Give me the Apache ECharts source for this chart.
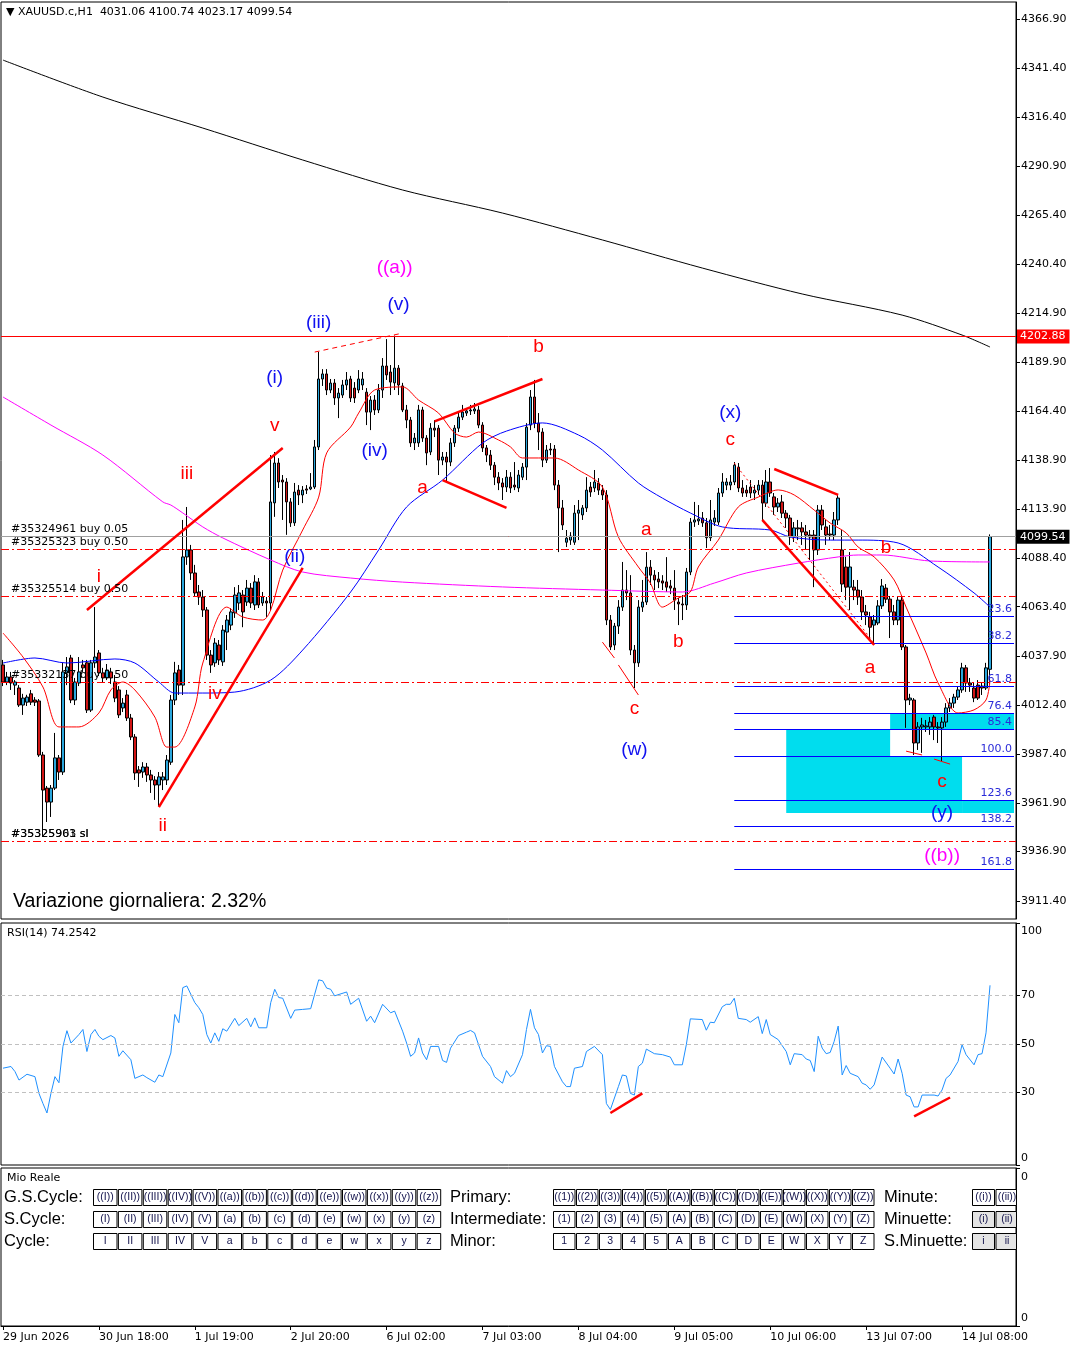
<!DOCTYPE html>
<html><head><meta charset="utf-8">
<script src="https://cdn.jsdelivr.net/npm/echarts@6/dist/echarts.min.js"></script>
<style>html,body{margin:0;padding:0;background:#fff}#c{width:1080px;height:1350px}</style>
</head><body><div id="c"></div>
<script>
// ---------- DATA ----------
const dateLabels = ['29 Jun 2026','30 Jun 18:00','1 Jul 19:00','2 Jul 20:00','6 Jul 02:00','7 Jul 03:00','8 Jul 04:00','9 Jul 05:00','10 Jul 06:00','13 Jul 07:00','14 Jul 08:00'];
const priceTicks = [3911.40,3936.90,3961.90,3987.40,4012.40,4037.90,4063.40,4088.40,4113.90,4138.90,4164.40,4189.90,4214.90,4240.40,4265.40,4290.90,4316.40,4341.40,4366.90];
const rsiTicks = [0,30,50,70,100];
// [open, close, low, high]
const ohlc = [
[4033.3,4024.5,4022.4,4035.9],[4024.5,4027.1,4022.9,4029.7],[4027.1,4024.0,4020.4,4029.7],[4022.9,4024.5,4017.8,4025.5],[4021.4,4012.6,4011.6,4022.9],
[4012.6,4016.2,4007.5,4018.4],[4014.1,4016.7,4012.1,4017.9],[4018.4,4014.1,4012.6,4020.4],[4015.2,4014.1,4012.1,4016.7],[4014.7,3986.8,3985.8,4015.7],
[3986.8,3968.7,3945.0,3988.4],[3969.7,3962.5,3952.2,3970.8],[3962.5,3969.7,3954.8,3971.3],[3969.7,3985.3,3968.7,3998.2],[3985.3,3978.0,3973.9,3986.8],
[3978.0,4029.7,3976.5,4034.4],[4029.2,4032.3,4022.9,4037.4],[4036.9,4015.2,4013.6,4038.5],[4015.2,4024.5,4012.6,4026.6],[4024.0,4029.7,4022.4,4037.4],
[4033.3,4031.8,4029.7,4035.9],[4034.4,4010.0,4008.5,4035.9],[4010.0,4034.4,4009.0,4035.9],[4034.4,4037.4,4031.8,4063.2],[4039.5,4029.2,4027.6,4041.0],
[4029.2,4026.6,4024.5,4031.8],[4026.6,4030.7,4025.5,4033.8],[4029.7,4026.6,4023.5,4031.8],[4024.5,4016.2,4014.1,4028.1],[4020.4,4007.5,4005.9,4022.4],
[4011.1,4013.6,4009.0,4016.2],[4017.8,4005.9,4004.4,4020.4],[4005.9,3996.1,3994.5,4008.0],[3996.1,3977.5,3973.9,3997.6],[3979.1,3977.5,3970.3,3981.1],
[3978.0,3980.6,3975.0,3983.1],[3980.6,3976.5,3972.9,3982.7],[3976.5,3973.9,3967.2,3979.1],[3973.9,3971.3,3963.6,3975.9],[3971.3,3975.5,3960.5,3978.0],
[3973.9,3975.5,3968.7,3978.0],[3973.9,3984.2,3971.3,3986.8],[3983.1,4015.2,3981.7,4017.8],[4015.2,4029.2,4012.6,4034.9],[4030.7,4022.9,4017.8,4033.3],
[4022.9,4089.1,4017.8,4108.2],[4089.1,4092.7,4085.0,4114.9],[4092.7,4080.8,4077.2,4095.3],[4080.8,4070.5,4068.9,4085.0],[4071.0,4068.4,4064.3,4074.6],
[4068.4,4061.7,4058.1,4072.0],[4061.7,4038.4,4035.9,4063.2],[4038.4,4033.3,4029.2,4041.0],[4034.4,4044.6,4032.3,4047.2],[4043.6,4035.9,4033.3,4046.2],
[4034.9,4051.3,4032.8,4053.9],[4050.3,4056.5,4041.0,4059.1],[4053.9,4060.7,4051.3,4062.7],[4060.2,4069.4,4057.6,4073.5],[4065.3,4070.5,4061.7,4074.6],
[4069.4,4060.7,4052.8,4072.0],[4065.8,4073.0,4063.8,4077.2],[4073.0,4065.3,4062.7,4075.6],[4064.3,4076.2,4061.7,4079.7],[4076.2,4064.3,4062.7,4078.2],
[4065.3,4068.4,4063.8,4071.0],[4066.3,4065.3,4058.1,4068.4],[4065.3,4117.5,4061.7,4141.7],[4117.0,4137.6,4109.8,4143.3],[4137.6,4127.8,4124.7,4140.1],
[4128.8,4127.8,4108.2,4131.4],[4127.8,4117.5,4100.5,4129.8],[4117.5,4106.7,4104.6,4119.5],[4106.7,4122.6,4105.1,4127.3],[4123.6,4121.1,4115.9,4126.2],
[4121.1,4123.6,4116.9,4125.7],[4124.2,4123.6,4121.6,4126.2],[4124.2,4125.2,4123.6,4132.4],[4125.2,4145.9,4124.2,4149.5],[4145.9,4181.0,4144.3,4195.0],
[4181.0,4183.6,4177.4,4186.1],[4183.6,4175.3,4172.7,4186.1],[4175.3,4178.9,4173.7,4181.0],[4178.9,4171.2,4167.6,4181.0],[4171.2,4173.7,4160.8,4176.3],
[4172.7,4177.9,4171.2,4180.5],[4177.9,4180.5,4175.3,4184.6],[4181.0,4171.2,4169.1,4182.6],[4176.3,4171.2,4168.6,4179.4],[4175.3,4181.0,4173.7,4185.6],
[4177.9,4181.0,4175.3,4184.6],[4174.2,4163.9,4157.2,4176.3],[4163.9,4170.1,4154.6,4172.2],[4170.1,4165.0,4162.4,4172.7],[4165.0,4175.3,4163.4,4178.4],
[4175.3,4187.7,4171.2,4191.8],[4187.7,4183.1,4180.5,4201.6],[4184.6,4179.4,4172.7,4188.2],[4179.0,4186.6,4175.3,4203.4],[4186.6,4177.9,4172.7,4188.2],
[4177.4,4165.0,4163.9,4179.0],[4165.0,4159.8,4155.6,4167.6],[4159.8,4148.0,4145.9,4161.4],[4148.0,4150.5,4144.3,4153.1],[4148.0,4165.0,4145.9,4167.6],
[4165.0,4150.5,4148.5,4166.6],[4150.5,4142.8,4136.5,4152.0],[4143.3,4155.6,4141.7,4158.2],[4155.6,4154.6,4151.0,4159.8],[4155.6,4139.1,4131.4,4157.2],
[4139.1,4140.7,4136.5,4143.3],[4140.7,4138.1,4127.8,4143.3],[4138.1,4148.0,4136.0,4150.5],[4148.0,4155.6,4145.9,4157.2],[4155.6,4161.3,4153.6,4163.9],
[4161.3,4163.9,4159.8,4167.6],[4163.4,4164.5,4161.9,4166.0],[4164.5,4165.0,4162.4,4167.6],[4164.5,4165.5,4162.9,4168.6],[4165.0,4157.2,4155.6,4167.1],
[4157.2,4145.4,4143.3,4158.7],[4145.4,4141.7,4138.1,4146.9],[4141.7,4136.5,4134.0,4144.3],[4136.5,4130.3,4126.2,4138.1],[4130.3,4127.3,4123.6,4132.9],
[4127.3,4125.2,4118.5,4129.8],[4125.2,4130.3,4122.6,4134.0],[4130.3,4124.7,4122.1,4132.9],[4126.2,4125.2,4123.6,4138.1],[4124.7,4131.4,4122.6,4134.0],
[4130.3,4135.5,4128.8,4137.6],[4135.5,4156.1,4128.8,4158.2],[4157.2,4171.7,4154.6,4175.3],[4171.7,4158.2,4155.6,4180.5],[4158.2,4153.6,4144.3,4163.4],
[4153.6,4139.1,4135.5,4155.6],[4139.1,4144.3,4137.6,4146.9],[4144.8,4144.3,4141.7,4147.9],[4144.8,4126.2,4123.6,4146.9],[4126.2,4114.4,4091.6,4128.8],
[4114.4,4105.6,4103.0,4118.5],[4096.7,4098.8,4094.2,4103.0],[4097.8,4099.9,4095.3,4101.9],[4096.7,4111.7,4095.3,4115.9],[4111.7,4113.3,4097.8,4118.5],
[4110.8,4114.4,4108.2,4115.9],[4114.4,4123.6,4112.3,4130.3],[4125.2,4122.6,4120.1,4127.8],[4124.7,4127.8,4122.6,4134.0],[4127.3,4123.6,4121.1,4129.8],
[4123.6,4121.1,4118.5,4126.2],[4121.1,4056.5,4053.9,4123.6],[4056.5,4042.6,4041.0,4059.1],[4043.6,4053.4,4041.0,4055.0],[4053.4,4063.2,4049.3,4066.8],
[4063.2,4072.0,4061.2,4086.5],[4072.0,4070.5,4066.8,4082.3],[4070.5,4041.0,4038.4,4079.7],[4041.0,4034.4,4021.4,4043.6],[4034.4,4063.2,4032.3,4066.8],
[4063.2,4065.8,4060.7,4077.2],[4065.8,4083.8,4064.3,4091.6],[4083.8,4079.7,4074.6,4087.5],[4079.7,4077.2,4072.0,4082.3],[4077.7,4076.2,4073.0,4081.3],
[4076.7,4075.6,4072.0,4079.7],[4076.2,4073.5,4071.0,4089.0],[4074.1,4073.0,4069.9,4077.2],[4073.0,4066.8,4061.7,4082.3],[4065.8,4064.8,4053.9,4067.9],
[4064.8,4064.3,4056.5,4069.4],[4064.3,4081.3,4061.7,4083.4],[4081.3,4107.1,4079.7,4109.2],[4107.1,4108.2,4104.6,4117.5],[4107.7,4108.7,4105.6,4115.9],
[4109.2,4106.7,4104.6,4112.3],[4106.7,4099.0,4093.7,4109.2],[4099.0,4108.2,4097.3,4118.5],[4107.1,4109.2,4105.1,4113.3],[4107.1,4122.1,4105.6,4124.7],
[4122.1,4127.8,4120.1,4132.4],[4126.2,4127.8,4123.6,4129.8],[4126.2,4127.8,4123.6,4131.4],[4127.8,4136.5,4126.2,4138.1],[4135.5,4124.7,4122.6,4137.6],
[4124.7,4122.1,4120.1,4128.8],[4123.6,4122.1,4120.1,4126.2],[4125.2,4122.1,4119.5,4128.8],[4122.1,4123.6,4118.5,4126.2],[4123.6,4126.2,4121.1,4128.8],
[4126.2,4116.9,4108.2,4128.8],[4116.9,4127.8,4114.9,4134.0],[4127.8,4122.1,4120.1,4135.0],[4120.1,4114.9,4110.8,4122.1],[4114.9,4116.9,4112.3,4119.5],
[4117.5,4111.7,4109.2,4121.1],[4111.7,4109.2,4104.1,4113.3],[4109.2,4099.4,4095.3,4110.8],[4099.4,4104.1,4096.8,4107.1],[4104.1,4103.6,4097.8,4108.2],
[4104.1,4102.0,4095.3,4107.1],[4102.0,4100.4,4092.7,4105.6],[4100.4,4099.4,4087.5,4103.0],[4100.4,4092.7,4073.5,4103.0],[4092.7,4113.3,4090.1,4115.9],
[4113.3,4105.6,4103.0,4115.9],[4104.6,4100.4,4095.3,4108.2],[4100.9,4100.4,4097.8,4105.6],[4100.4,4108.2,4097.8,4112.3],[4108.2,4119.5,4105.6,4121.1],
[4092.7,4075.1,4071.0,4103.0],[4083.9,4073.5,4066.8,4089.1],[4073.5,4083.9,4061.7,4091.6],[4073.5,4072.0,4066.8,4077.2],[4072.0,4068.4,4064.3,4077.2],
[4068.4,4060.7,4056.5,4072.0],[4060.7,4059.1,4053.9,4064.3],[4058.1,4052.8,4046.2,4060.7],[4053.9,4056.5,4044.6,4059.1],[4055.0,4063.8,4053.9,4066.8],
[4063.8,4074.1,4062.2,4077.7],[4073.0,4067.3,4065.3,4075.1],[4067.3,4060.7,4047.2,4068.9],[4060.7,4056.5,4053.9,4064.3],[4056.5,4066.8,4053.9,4068.4],
[4066.8,4042.6,4041.0,4069.4],[4042.6,4015.2,4000.8,4043.6],[4015.2,4016.2,4012.6,4018.4],[4015.2,3993.0,3986.8,4016.2],[3993.0,4001.3,3989.4,4003.8],
[4001.3,4002.3,3987.9,4006.0],[4001.3,4001.8,3998.7,4004.9],[4001.3,4003.8,3997.2,4006.4],[4006.4,4001.3,3994.5,4007.5],[4001.3,4000.8,3993.0,4003.8],
[4000.8,4003.8,3983.7,4006.4],[4003.8,4011.1,4001.3,4013.6],[4011.1,4013.6,4009.0,4016.2],[4013.6,4016.7,4011.1,4018.4],[4016.7,4020.4,4015.2,4022.4],
[4020.4,4031.8,4018.9,4034.4],[4031.8,4024.0,4019.4,4033.3],[4024.0,4022.9,4019.4,4026.6],[4021.4,4016.2,4014.1,4024.0],[4022.9,4016.2,4015.2,4025.5],
[4022.4,4021.4,4017.8,4024.0],[4021.4,4031.8,4020.4,4034.4],[4031.06,4099.54,4023.17,4100.74]
];
// moving averages: [bar, price]
const maBlack = [[0,4345.7],[25,4326.6],[50,4310.6],[75,4294.1],[100,4278.6],[125,4266.7],[150,4252.8],[175,4238.3],[200,4224.9],[225,4214.0],[240,4203.7],[247,4197.5]];
const maMagenta = [[0,4171.7],[12,4157.2],[25,4141.7],[40,4117.5],[42,4115.9],[45,4111.8],[50,4104.6],[55,4098.9],[67,4087.5],[75,4081.3],[87,4078.2],[100,4076.1],[125,4073.6],[150,4072.0],[170,4071.0],[178,4075.6],[186,4080.8],[199,4085.9],[209,4089.1],[214,4090.1],[220,4090.1],[232,4087.0],[247,4086.5]];
const maBlue = [[0,4034.3],[8,4036.9],[16,4034.3],[28,4036.4],[33,4034.3],[39,4024.5],[43,4018.8],[50,4018.8],[58,4019.3],[67,4025.5],[75,4041.0],[87,4071.0],[94,4092.7],[101,4114.9],[110,4128.8],[120,4147.9],[126,4154.1],[135,4158.3],[144,4152.1],[150,4144.3],[159,4127.3],[165,4119.5],[172,4111.8],[180,4104.6],[192,4103.0],[197,4099.4],[207,4097.8],[214,4097.8],[224,4096.3],[234,4083.9],[243,4070.5],[247,4063.2]];
const maRed = [[0,4049.8],[5,4037.4],[10,4021.9],[14,4001.3],[19,4001.3],[24,4008.5],[27,4020.4],[30,4024.5],[33,4020.4],[38,4006.4],[41,3990.9],[43,3990.9],[48,4011.6],[50,4034.3],[56,4063.2],[60,4058.1],[65,4056.5],[67,4061.7],[70,4082.3],[75,4103.0],[79,4120.0],[81,4142.8],[87,4156.2],[89,4163.4],[93,4175.3],[100,4176.9],[104,4170.1],[109,4163.4],[113,4153.1],[116,4151.0],[119,4153.6],[124,4149.5],[127,4145.9],[130,4140.2],[138,4140.2],[144,4134.0],[150,4125.2],[154,4099.4],[159,4083.9],[162,4075.6],[165,4063.2],[169,4067.9],[172,4071.0],[174,4083.9],[179,4097.8],[184,4114.9],[189,4120.0],[194,4123.7],[198,4121.1],[203,4113.3],[207,4106.6],[211,4101.5],[214,4094.2],[218,4089.1],[223,4077.2],[226,4063.2],[231,4039.5],[234,4024.0],[239,4008.5],[243,4010.1],[246,4015.2],[247,4025.5]];
// RSI(14): [bar, value]
const rsiPoints = [[0,40.0],[2,40.7],[3,38.6],[4,35.1],[6,37.5],[8,36.5],[9,29.6],[10,25.4],[11,21.5],[12,29.6],[13,36.5],[14,34.0],[15,49.0],[16,55.5],[17,50.4],[19,53.9],[20,56.0],[21,46.9],[22,53.9],[23,56.0],[24,53.2],[25,51.8],[27,53.5],[28,52.5],[29,44.9],[30,47.2],[32,43.5],[33,35.8],[35,37.2],[36,36.1],[38,34.2],[39,37.2],[40,36.5],[42,46.3],[43,62.2],[44,58.8],[45,73.3],[46,74.0],[48,67.1],[49,65.0],[50,62.2],[51,53.9],[52,50.4],[53,54.6],[54,51.1],[55,56.3],[56,55.3],[58,60.6],[59,57.6],[61,60.6],[62,57.1],[63,60.8],[64,56.7],[66,56.7],[67,67.1],[68,72.6],[69,69.2],[70,68.9],[72,60.6],[73,64.0],[75,64.3],[77,64.6],[78,70.6],[79,76.5],[80,76.1],[81,73.1],[82,72.6],[83,69.9],[86,71.5],[87,66.4],[89,68.9],[91,59.4],[92,61.5],[93,58.8],[95,66.4],[97,62.9],[98,63.6],[100,55.3],[101,50.4],[102,44.9],[103,46.3],[104,52.5],[105,46.3],[106,43.5],[107,49.0],[109,49.0],[110,43.2],[111,42.4],[112,48.3],[114,53.5],[116,54.9],[117,55.6],[118,54.6],[120,44.9],[122,40.7],[123,36.5],[125,33.8],[126,39.0],[127,36.5],[128,37.9],[130,45.6],[131,56.0],[132,64.3],[133,56.7],[134,53.9],[135,46.3],[136,49.3],[137,49.0],[138,40.7],[140,34.4],[141,32.4],[142,32.4],[143,40.0],[145,40.7],[146,46.9],[148,49.0],[150,45.6],[151,25.4],[152,22.9],[154,32.4],[155,37.2],[156,36.8],[157,29.6],[158,28.9],[159,40.7],[160,42.1],[161,47.9],[163,46.0],[165,45.6],[167,44.6],[168,41.4],[170,41.4],[171,49.7],[172,60.4],[175,60.1],[176,55.7],[177,59.0],[178,58.8],[180,65.4],[181,66.4],[182,66.4],[183,68.9],[184,60.6],[186,60.1],[187,59.0],[189,61.3],[190,54.3],[191,60.1],[192,53.9],[194,51.8],[195,49.3],[196,46.9],[197,41.4],[198,46.0],[200,45.6],[201,43.8],[202,43.2],[203,38.6],[204,53.2],[205,48.3],[206,46.0],[207,46.5],[208,51.1],[209,57.4],[210,37.2],[211,41.1],[212,37.9],[214,36.5],[215,33.8],[216,33.1],[217,31.3],[218,33.1],[220,44.6],[222,40.0],[223,37.6],[224,43.8],[225,37.9],[226,28.9],[227,28.2],[228,24.0],[229,24.0],[230,28.9],[233,28.9],[234,28.5],[235,31.0],[236,35.8],[237,37.2],[239,42.8],[240,49.7],[241,45.6],[243,41.4],[244,45.6],[245,46.0],[246,54.6],[247,74.25]];
// order lines and levels
const orderLevels = [['#35324961 buy 0.05',4099.9],['#35325323 buy 0.50',4093.2],['#35325514 buy 0.50',4068.9],['#35332137 buy 0.50',4024.5],['#35325961 sl',3942.4],['#35325903 sl',3942.4]];
const resistance = 4202.88, lastPrice = 4099.54;
const fibNames = ['23.6','38.2','61.8','76.4','85.4','100.0','123.6','138.2','161.8'];
const fibPrices = [4058.6,4044.6,4022.4,4008.5,4000.2,3986.3,3963.5,3950.1,3927.9];
const fibStartBar = 183.25, rightBar = 253.4;
const zones = [[222.25,4008.5,rightBar,4000.2],[196.25,4000.2,222.25,3986.3],[196.25,3986.3,240,3956.8],[240,3963.5,rightBar,3956.8]];
// wave labels: text, bar, price, colour key
const waves = [['((a))',98.25,4238.3,'m'],['(v)',98.5,4219.2,'b'],['(iii)',79.25,4209.9,'b'],['(i)',68.25,4181.5,'b'],['v',68.25,4156.7,'r'],['iii',46.25,4131.9,'r'],['(iv)',92.5,4143.8,'b'],['b',134.25,4197.5,'r'],['a',105.25,4124.7,'r'],['(ii)',73.25,4089.1,'b'],['i',23.5,4078.7,'r'],['iv',53.25,4018.3,'r'],['ii',40.25,3950.1,'r'],['(x)',182.25,4163.4,'b'],['c',182.0,4149.5,'r'],['a',161.25,4103.0,'r'],['b',169.25,4045.2,'r'],['c',158,4010.6,'r'],['(w)',158.25,3989.4,'b'],['b',220.5,4093.7,'r'],['a',217.25,4031.7,'r'],['c',235,3973.2,'r'],['(y)',235.25,3957.2,'b'],['((b))',235.25,3934.6,'m']];
// trend lines: [bar1, price1, bar2, price2, kind]
const trends = [[21.25,4061.7,69.5,4145.4,'thick'],[39.25,3959.9,75,4083.4,'thick'],[77.5,4194.9,99.5,4204.7,'dash'],[108.25,4159.1,134.5,4181.0,'thick'],[110.25,4128.8,126.25,4114.4,'thick'],[149.5,4045.1,152.5,4036.9,'thin'],[153.5,4033.3,159,4017.8,'thin'],[192.5,4134.5,209.25,4121.1,'thick'],[190.25,4108.2,218.25,4043.6,'thick'],[183.25,4137.6,218.25,4044.6,'dot'],[226.25,3988.8,230,3986.8,'thin'],[232.5,3984.7,236.5,3982.1,'thin']];
const rsiDivs = [[152.4,21.5,160.4,29.6],[228.4,20.1,237.4,27.9]];
// panel button captions
const gsCycle = ['((I))','((II))','((III))','((IV))','((V))','((a))','((b))','((c))','((d))','((e))','((w))','((x))','((y))','((z))'];
const sCycle = ['(I)','(II)','(III)','(IV)','(V)','(a)','(b)','(c)','(d)','(e)','(w)','(x)','(y)','(z)'];
const cycle = ['I','II','III','IV','V','a','b','c','d','e','w','x','y','z'];
const primary = ['((1))','((2))','((3))','((4))','((5))','((A))','((B))','((C))','((D))','((E))','((W))','((X))','((Y))','((Z))'];
const intermediate = ['(1)','(2)','(3)','(4)','(5)','(A)','(B)','(C)','(D)','(E)','(W)','(X)','(Y)','(Z)'];
const minor = ['1','2','3','4','5','A','B','C','D','E','W','X','Y','Z'];
const minute = ['((i))','((ii))'], minuette = ['(i)','(ii)'], sMinuette = ['i','ii'];

// ---------- CHART ----------
const NCAT = 254;
const cats = Array.from({length: NCAT}, (_, i) => String(i));
const F = 'DejaVu Sans';
const waveColor = {m: '#FF00FF', b: '#1010F0', r: '#FF0000'};
const chart = echarts.init(document.getElementById('c'), null, {renderer: 'canvas'});

const gridBase = {show: true, borderColor: '#000', borderWidth: 1, backgroundColor: '#fff', left: 1, width: 1015};
const trendStyle = k => k === 'thick' ? {color: '#FF0000', width: 2.5, type: 'solid'} :
  k === 'dash' ? {color: '#FF0000', width: 1, type: [5, 4]} :
  k === 'dot' ? {color: '#FF0000', width: 1, type: [2, 3]} : {color: '#FF0000', width: 1, type: 'solid'};
const orderLine = {color: '#FF0000', width: 1, type: [8, 3, 2, 3], opacity: 1};

const graphics = [];
const txt = (t, x, y, size, fam, color, align) => graphics.push({type: 'text', z: 100, style: {text: t, x: x, y: y, font: size + 'px "' + fam + '"', fill: color || '#000', textAlign: align || 'left', textVerticalAlign: 'middle'}});
txt('\u25BC XAUUSD.c,H1  4031.06 4100.74 4023.17 4099.54', 6, 12, 11, F, '#000');
txt('Variazione giornaliera: 2.32%', 13, 902, 19.5, 'Liberation Sans', '#000');
txt('RSI(14) 74.2542', 7, 933, 11, F, '#000');
txt('Mio Reale', 7, 1178, 11, F, '#000');
const rows = [
  {y: 1197, l: 'G.S.Cycle:', g1: gsCycle, m: 'Primary:', g2: primary, r: 'Minute:', g3: minute, f3: '#fff'},
  {y: 1219, l: 'S.Cycle:', g1: sCycle, m: 'Intermediate:', g2: intermediate, r: 'Minuette:', g3: minuette, f3: '#e4e4e4'},
  {y: 1241, l: 'Cycle:', g1: cycle, m: 'Minor:', g2: minor, r: 'S.Minuette:', g3: sMinuette, f3: '#e4e4e4'}
];
const btn = (t, x, yc, w, fill) => {
  const ww = Math.min(w, 1016 - x);
  graphics.push({type: 'rect', z: 100, shape: {x: x + 0.5, y: yc - 8 + 0.5, width: ww, height: 16}, style: {fill: fill, stroke: '#000', lineWidth: 1}});
  graphics.push({type: 'text', z: 101, style: {text: t, x: x + w / 2 + 0.5, y: yc + 0.5, font: '10.5px "Liberation Sans"', fill: '#10104a', textAlign: 'center', textVerticalAlign: 'middle'}});
};
rows.forEach(r => {
  txt(r.l, 4, r.y, 16.5, 'Liberation Sans', '#000');
  txt(r.m, 450, r.y, 16.5, 'Liberation Sans', '#000');
  txt(r.r, 884, r.y, 16.5, 'Liberation Sans', '#000');
  r.g1.forEach((t, i) => btn(t, 93 + i * 24.9, r.y, 23.5, '#fff'));
  r.g2.forEach((t, i) => btn(t, 553 + i * 23, r.y, 21.5, '#fff'));
  r.g3.forEach((t, i) => btn(t, 972 + i * 23.5, r.y, 22, r.f3));
});

const option = {
  animation: false,
  backgroundColor: '#fff',
  grid: [
    Object.assign({top: 2, height: 917}, gridBase),
    Object.assign({top: 923, height: 242}, gridBase),
    Object.assign({top: 1168, height: 158}, gridBase)
  ],
  xAxis: [
    {type: 'category', gridIndex: 0, data: cats, boundaryGap: true, show: false},
    {type: 'category', gridIndex: 1, data: cats, boundaryGap: true, show: false},
    {type: 'category', gridIndex: 2, data: cats, boundaryGap: true, position: 'bottom',
      axisLine: {show: true, lineStyle: {color: '#000'}},
      axisTick: {show: true, alignWithLabel: true, length: 4, interval: i => i % 24 === 0, lineStyle: {color: '#000'}},
      axisLabel: {interval: i => i % 24 === 0 && i / 24 < dateLabels.length, formatter: (v, i) => dateLabels[Math.round(i / 24)] || '', align: 'left', color: '#000', fontFamily: F, fontSize: 11, margin: 6},
      splitLine: {show: false}}
  ],
  yAxis: [
    {type: 'value', gridIndex: 0, position: 'right', min: 3902.1, max: 4375.7,
      axisLine: {show: true, lineStyle: {color: '#000'}},
      axisTick: {show: true, length: 4, customValues: priceTicks, lineStyle: {color: '#000'}},
      axisLabel: {customValues: priceTicks, formatter: v => v.toFixed(2), color: '#000', fontFamily: F, fontSize: 11, margin: 5},
      splitLine: {show: false}},
    {type: 'value', gridIndex: 1, position: 'right', min: 0, max: 100,
      axisLine: {show: true, lineStyle: {color: '#000'}},
      axisTick: {show: true, length: 4, customValues: rsiTicks, lineStyle: {color: '#000'}},
      axisLabel: {customValues: [2.9, 30, 50, 70, 96.7], formatter: v => v < 10 ? '0' : (v > 90 ? '100' : String(Math.round(v))), color: '#000', fontFamily: F, fontSize: 11, margin: 5},
      splitLine: {show: false}},
    {type: 'value', gridIndex: 2, position: 'right', min: 0, max: 1,
      axisLine: {show: true, lineStyle: {color: '#000'}},
      axisTick: {show: true, length: 4, customValues: [0, 1], lineStyle: {color: '#000'}},
      axisLabel: {customValues: [0.05, 0.945], formatter: () => '0', color: '#000', fontFamily: F, fontSize: 11, margin: 5},
      splitLine: {show: false}}
  ],
  series: [
    {name: 'zones', type: 'line', xAxisIndex: 0, yAxisIndex: 0, data: [], z: 1, silent: true,
      markArea: {silent: true, itemStyle: {color: '#00DDEE'},
        data: zones.map(z => [{coord: [z[0], z[1]]}, {coord: [z[2], z[3]]}])}},
    {name: 'fib', type: 'line', xAxisIndex: 0, yAxisIndex: 0, data: [], z: 2, silent: true,
      markLine: {silent: true, symbol: ['none', 'none'], lineStyle: {color: '#0000FF', width: 1, type: 'solid'},
        label: {show: true, position: 'insideEndTop', formatter: p => p.name, color: '#2a2ad8', fontFamily: F, fontSize: 11, distance: [2, 1]},
        data: fibPrices.map((p, i) => [{name: fibNames[i], coord: [fibStartBar, p]}, {coord: [rightBar, p]}])}},
    {name: 'orders', type: 'line', xAxisIndex: 0, yAxisIndex: 0, data: [], z: 2, silent: true, color: '#FF0000',
      markLine: {silent: true, symbol: ['none', 'none'],
        lineStyle: orderLine,
        label: {show: true, position: 'insideStartTop', formatter: p => p.name, color: '#000', fontFamily: F, fontSize: 11, padding: [0, 0, 0, 6], distance: [4, 1]},
        data: orderLevels.map(o => ({name: o[0], yAxis: o[1], lineStyle: orderLine})).concat([
          {name: 'res', yAxis: resistance, lineStyle: {color: '#FF0000', type: 'solid', width: 1},
            label: {position: 'end', formatter: resistance.toFixed(2), backgroundColor: '#FF0000', color: '#fff', padding: [2, 4, 1, 3], distance: 1}},
          {name: 'bid', yAxis: lastPrice, lineStyle: {color: '#A0A0A0', type: 'solid', width: 1},
            label: {position: 'end', formatter: lastPrice.toFixed(2), backgroundColor: '#000', color: '#fff', padding: [2, 4, 1, 3], distance: 1}}
        ])}},
    {name: 'XAUUSD', type: 'candlestick', xAxisIndex: 0, yAxisIndex: 0, data: ohlc, z: 3, barWidth: 3,
      itemStyle: {color: '#2AA6DC', color0: '#D11515', borderColor: '#000', borderColor0: '#000', borderWidth: 1}},
    {name: 'maBlack', type: 'line', xAxisIndex: 0, yAxisIndex: 0, data: maBlack, z: 4, showSymbol: false, smooth: 0.3, lineStyle: {color: '#000', width: 1}},
    {name: 'maMagenta', type: 'line', xAxisIndex: 0, yAxisIndex: 0, data: maMagenta, z: 4, showSymbol: false, smooth: 0.3, lineStyle: {color: '#FF00FF', width: 1}},
    {name: 'maBlue', type: 'line', xAxisIndex: 0, yAxisIndex: 0, data: maBlue, z: 4, showSymbol: false, smooth: 0.3, lineStyle: {color: '#0000FF', width: 1}},
    {name: 'maRed', type: 'line', xAxisIndex: 0, yAxisIndex: 0, data: maRed, z: 4, showSymbol: false, smooth: 0.3, lineStyle: {color: '#FF0000', width: 1}},
    {name: 'drawings', type: 'line', xAxisIndex: 0, yAxisIndex: 0, data: [], z: 5, silent: true,
      markLine: {silent: true, symbol: ['none', 'none'], label: {show: false},
        data: trends.map(t => [{coord: [t[0], t[1]], lineStyle: trendStyle(t[4])}, {coord: [t[2], t[3]]}])},
      markPoint: {silent: true, symbol: 'circle', symbolSize: 1, itemStyle: {color: 'rgba(0,0,0,0)'},
        data: waves.map(w => ({name: w[0], coord: [w[1], w[2]], label: {show: true, position: 'inside', formatter: w[0], color: waveColor[w[3]], fontFamily: 'Liberation Sans', fontSize: 19}}))}},
    {name: 'RSI', type: 'line', xAxisIndex: 1, yAxisIndex: 1, data: rsiPoints, showSymbol: false, z: 4, lineStyle: {color: '#1E90FF', width: 1},
      markLine: {silent: true, symbol: ['none', 'none'], label: {show: false},
        data: [30, 50, 70].map(v => ({yAxis: v, lineStyle: {color: '#C0C0C0', type: [4, 3], width: 1}})).concat(
          rsiDivs.map(d => [{coord: [d[0], d[1]], lineStyle: {color: '#FF0000', width: 2.5, type: 'solid'}}, {coord: [d[2], d[3]]}]))}}
  ],
  graphic: graphics
};
chart.setOption(option);
</script></body></html>
